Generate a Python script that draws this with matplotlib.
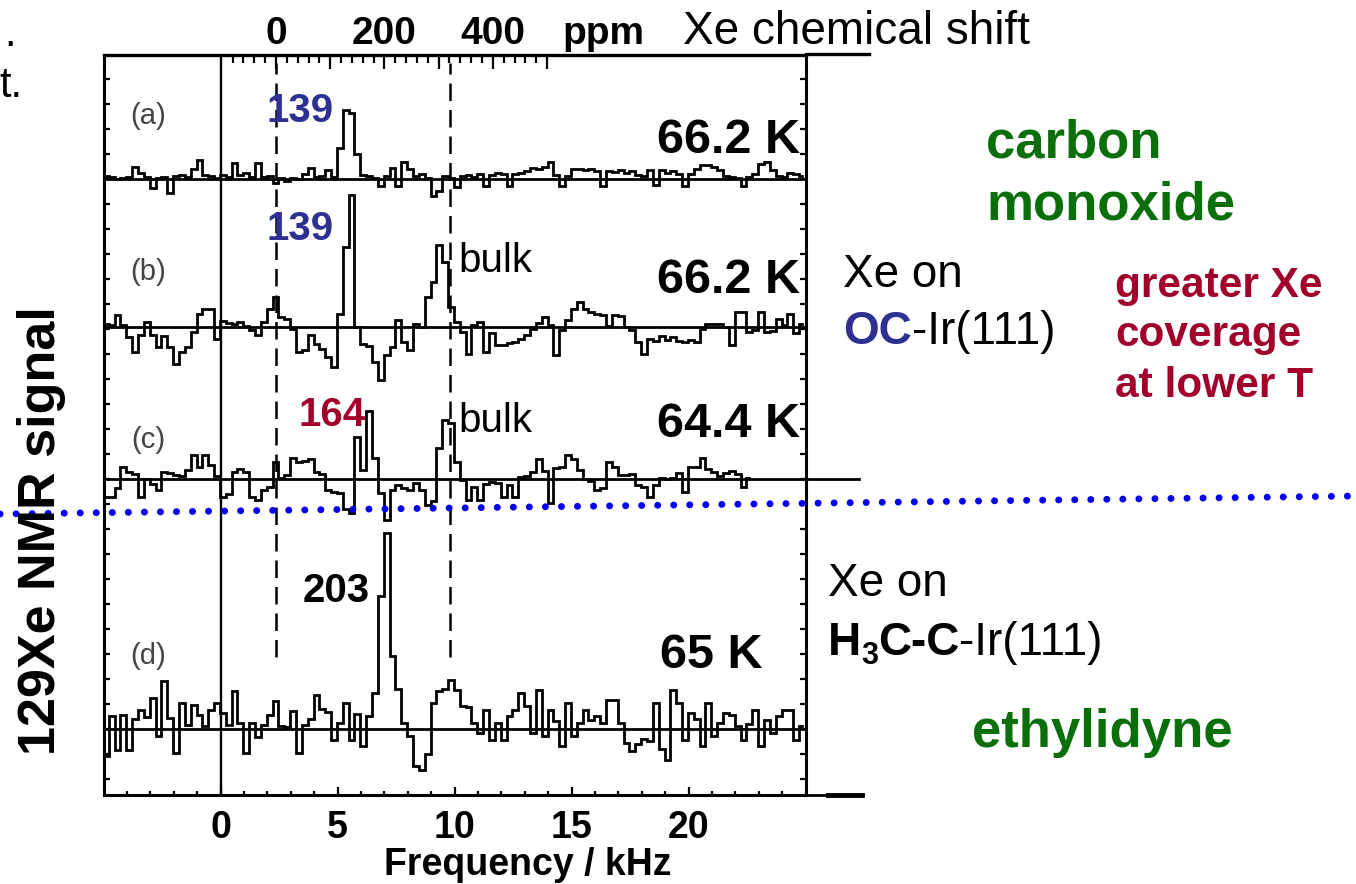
import numpy as np
import matplotlib
matplotlib.use("Agg")
import matplotlib.pyplot as plt
from matplotlib.lines import Line2D

plt.rcParams['font.family'] = ['Liberation Sans', 'DejaVu Sans']

W, H = 1356, 884

# spectra: signal above each trace's own baseline, one value every 0.25 kHz from -4.9 kHz
f_start = -4.9
f_step = 0.25

sig_a = [0.3, 0.2, 0.0, 0.1, 0.2, 1.2, 0.6, 0.2, -0.9, 0.1,
         0.2, -1.4, 0.3, 0.4, 0.2, 1.0, 1.9, 0.4, 0.3, 0.1,
         0.4, 0.2, 1.6, 0.4, 0.6, 0.2, 1.6, 0.2, 0.3, -0.4,
         0.1, -0.2, 0.1, 0.0, 0.5, 1.1, 0.2, 0.3, 0.9, 0.2,
         3.1, 6.9, 6.6, 2.5, 0.4, 0.3, 0.1, -0.7, 0.3, 1.1,
         -0.7, 1.7, 1.0, 0.3, 0.5, 0.1, -1.7, -1.2, 0.3, 0.1,
         -0.8, 0.3, 0.4, 0.2, 0.5, -0.7, 0.4, 0.6, 0.5, -0.7,
         0.5, 0.6, 0.8, 1.1, 1.0, 1.2, 1.7, 0.4, -0.7, 0.3,
         1.0, 1.0, 0.9, 1.0, 0.8, -0.7, 0.8, 0.7, 0.9, 0.6,
         0.8, 0.4, 0.3, 0.9, -0.6, 0.9, 0.6, 0.8, 0.5, -0.7,
         0.5, 1.0, 1.4, 1.4, 1.2, 0.9, 0.3, 0.2, 0.1, -0.7,
         0.2, 0.5, 1.5, 1.7, 0.9, 0.3, 0.2, 0.6, 0.5, 0.3]

sig_b = [0.3, 0.2, 1.2, 0.2, -1.0, -2.5, -0.8, 0.5, -0.8, -2.0,
         -0.9, -2.0, -3.7, -2.5, -2.0, -0.5, 1.3, 1.8, 1.8, -1.2,
         0.6, 0.4, 0.3, 0.5, 0.1, -0.3, -0.8, 0.5, 1.8, 3.0,
         1.0, 0.8, -0.2, -2.5, -2.3, -0.8, -1.7, -2.2, -3.0, -4.0,
         1.3, 8.0, 13.2, 0.0, -1.7, -1.9, -3.5, -5.3, -2.8, -2.0,
         0.7, -1.5, -2.3, 0.3, 0.0, 3.0, 4.5, 8.2, 6.5, 2.0,
         0.5, -0.5, -2.7, 0.2, 0.5, -2.5, -0.6, -1.8, -1.8, -1.6,
         -1.5, -1.2, -0.8, -0.2, 0.4, 1.0, 0.2, -2.8, -0.3, 0.7,
         1.8, 2.5, 1.8, 1.5, 1.3, 1.2, 0.1, 1.2, 1.1, 0.0,
         -0.3, -1.5, -2.7, -1.2, -1.4, -0.9, -1.3, -1.0, -1.4, -1.5,
         -1.3, -1.5, -0.2, 0.3, 0.3, 0.3, 0.0, -1.8, 1.5, 1.5,
         -0.5, -0.3, 1.5, -0.5, -0.4, 0.8, 0.2, 1.3, -0.6, 0.3]

sig_c = [-1.8, -1.8, -0.9, 1.2, 0.7, 0.5, -1.8, 0.0, -0.5, -1.1,
         0.7, 0.6, 0.4, 0.3, 0.9, 2.4, 1.2, 2.4, 1.4, 0.3,
         -1.8, -1.5, 0.7, 1.0, 0.7, -1.8, -2.1, -1.1, -0.8, 1.7,
         0.1, 0.4, 2.1, 1.7, 1.8, 2.0, 0.7, 0.5, -1.1, -1.3,
         -1.4, -3.0, -3.4, 4.2, 0.9, 6.8, 2.1, -1.4, -4.1, -1.1,
         -0.6, -0.9, -1.1, -0.4, -1.1, -2.6, -2.2, 3.1, 5.9, 5.6,
         1.7, -0.1, -2.1, -0.8, -2.1, -0.5, -0.3, -0.4, -1.8, -0.6,
         -1.8, 0.2, 0.3, 0.7, 2.0, 0.8, -2.4, 1.1, 1.2, 2.4,
         2.0, 0.9, 0.0, -0.2, -1.1, -0.9, 1.7, 1.2, 0.4, 0.4,
         0.5, -0.6, -0.8, -1.8, -0.6, 0.1, 0.0, 0.1, 0.6, -1.3,
         1.2, 1.2, 2.1, 1.0, 0.7, 0.3, 0.6, 0.8, 0.5, -0.8,
         0.1]

sig_d = [-2.7, 1.3, -2.1, 1.4, -2.1, 1.0, 1.9, 1.2, 3.1, -0.7,
         4.8, 1.1, -2.4, 2.6, 0.4, 2.4, 1.4, 0.3, 1.9, 2.6,
         1.6, 0.4, 3.8, 0.6, -2.4, 0.6, -0.8, 0.4, 1.4, 2.8,
         0.3, 0.2, 1.8, -2.4, 0.4, 1.0, 3.4, 2.0, 1.7, -1.1,
         0.6, 2.6, -1.1, 1.5, -1.7, 1.3, 3.6, 13.3, 19.6, 7.3,
         4.0, 0.6, -0.7, -3.7, -4.1, -2.5, 2.6, 3.8, 4.0, 4.9,
         3.9, 2.3, 2.2, 0.6, -0.4, 1.9, -1.1, 0.6, -1.1, 1.3,
         1.9, 3.6, 2.3, -0.4, 3.9, -0.7, 1.9, 0.8, -1.7, 2.6,
         -0.7, 0.6, 1.9, 0.9, 1.3, 0.6, 2.9, 2.9, 0.6, -1.4,
         -2.2, -1.5, -1.0, -1.2, 2.6, -2.0, -3.1, 3.9, 2.6, -1.1,
         1.6, 1.0, -1.7, 2.6, -0.7, 0.6, 1.6, 1.4, 0.3, -1.1,
         0.5, 1.9, -1.7, 0.9, -0.4, 1.3, 1.9, 1.9, -1.1, 0.3]

spectra = [sig_a, sig_b, sig_c, sig_d]
baselines = [61.6, 46.8, 31.6, 6.6]
panel_labels = ['(a)', '(b)', '(c)', '(d)']
temps = ['66.2 K', '66.2 K', '64.4 K', '65 K']

# top chemical-shift scale: 0 ppm sits at 2.37 kHz, 0.02317 kHz per ppm
zero_ppm_khz = 2.37
khz_per_ppm = 0.02317
bulk_ppm = 321
ppm_major = [0, 100, 200, 300, 400, 500]
ppm_labels = ['0', '', '200', '', '400', '']

khz_ticks = [0, 5, 10, 15, 20]

blue = '#2e3192'
red = '#a0002a'
green = '#0a6e0a'


def k2p(f):
    return (np.asarray(f) - zero_ppm_khz) / khz_per_ppm


def p2k(p):
    return np.asarray(p) * khz_per_ppm + zero_ppm_khz


def fx(x):
    return x / W


def fy(y):
    return 1 - y / H


fig = plt.figure(figsize=(W / 100, H / 100), dpi=100)
ax = fig.add_axes([fx(104), fy(795), 702 / W, 740 / H])
xmin, xmax = -4.98, 25.02
ax.set_xlim(xmin, xmax)
ax.set_ylim(0, 74)

for i, (sig, base) in enumerate(zip(spectra, baselines)):
    f = f_start + f_step * np.arange(len(sig))
    ax.plot(f, base + np.array(sig), color='k', lw=2.0, drawstyle='steps-mid',
            solid_joinstyle='miter')
    if i == 2:
        # baseline of (c) runs on past the frame
        ax.plot([xmin, 27.3], [base, base], color='k', lw=2.0, clip_on=False)
    else:
        ax.axhline(base, color='k', lw=2.0)

ax.axvline(0, color='k', lw=1.7)
for p in [0, bulk_ppm]:
    ax.plot([p2k(p)] * 2, [13.8, 73.2], color='k', lw=1.8, ls=(0, (7, 3.6)))

for s in ['left', 'right', 'bottom']:
    ax.spines[s].set_linewidth(2.2)
ax.spines['top'].set_visible(False)

ax.set_xticks(khz_ticks)
ax.set_xticklabels([str(t) for t in khz_ticks])
ax.set_xticks(np.arange(-4, 26), minor=True)
ax.tick_params(axis='x', which='major', direction='in', length=6, width=1.6,
               labelsize=27, pad=11, top=False)
ax.tick_params(axis='x', which='minor', direction='in', length=3, width=1.6, top=False)
for lab in ax.get_xticklabels():
    lab.set_fontweight('bold')

ax.set_yticks(np.arange(1.6, 74, 2.5))
ax.set_yticklabels([])
ax.tick_params(axis='y', direction='in', length=4.5, width=1.6, left=True, right=True)

secax = ax.secondary_xaxis('top', functions=(k2p, p2k))
secax.set_xticks(ppm_major)
secax.set_xticklabels(ppm_labels)
secax.set_xticks(np.arange(-80, 501, 20), minor=True)
secax.tick_params(axis='x', which='major', direction='in', length=10, width=1.6,
                  labelsize=28, pad=2)
secax.tick_params(axis='x', which='minor', direction='in', length=6, width=1.6)
secax.spines['top'].set_linewidth(2.4)
for lab in secax.get_xticklabels():
    lab.set_fontweight('bold')

# frame extensions to the right of the plot
fig.add_artist(Line2D([fx(806), fx(869)], [fy(54), fy(54)], color='k', lw=2.4))
fig.add_artist(Line2D([fx(806), fx(862)], [fy(795), fy(795)], color='k', lw=2.0))
fig.add_artist(Line2D([fx(828), fx(862)], [fy(795), fy(795)], color='k', lw=3.5))

# annotations inside the plot
label_y = [67.9, 52.3, 35.5, 13.9]
for lab, y in zip(panel_labels, label_y):
    ax.text(-3.1, y, lab, ha='center', va='center', fontsize=21, color='#444444')

ax.text(3.4, 67.3, '139', color=blue, fontsize=29, fontweight='bold', ha='center', va='baseline')
ax.text(3.4, 55.5, '139', color=blue, fontsize=29, fontweight='bold', ha='center', va='baseline')
ax.text(4.76, 36.9, '164', color=red, fontsize=29, fontweight='bold', ha='center', va='baseline')
ax.text(4.94, 19.3, '203', color='k', fontsize=29, fontweight='bold', ha='center', va='baseline')
ax.text(10.15, 52.3, 'bulk', fontsize=29, ha='left', va='baseline')
ax.text(10.15, 36.3, 'bulk', fontsize=29, ha='left', va='baseline')

temp_pos = [(24.75, 64.2, 'right'), (24.75, 50.2, 'right'), (24.75, 35.8, 'right'), (18.8, 12.7, 'left')]
for t, (x, y, ha) in zip(temps, temp_pos):
    ax.text(x, y, t, fontsize=35, fontweight='bold', ha=ha, va='baseline')

# axis titles
fig.text(fx(603), fy(44), 'ppm', fontsize=28, fontweight='bold', ha='center', va='baseline')
fig.text(fx(528), fy(875), 'Frequency / kHz', fontsize=27, fontweight='bold',
         ha='center', va='baseline')
fig.text(fx(42), fy(531), '129Xe NMR signal', fontsize=37.5, fontweight='bold',
         rotation=90, ha='center', va='center')

# slide text around the figure
fig.text(fx(16), fy(46), '.', fontsize=30, ha='right', va='baseline')
fig.text(fx(22), fy(97), 't.', fontsize=30, ha='right', va='baseline')
fig.text(fx(683), fy(44), 'Xe chemical shift', fontsize=33, ha='left', va='baseline')

fig.text(fx(986), fy(157), 'carbon', fontsize=38, fontweight='bold', color=green, va='baseline')
fig.text(fx(986), fy(220), 'monoxide', fontsize=38, fontweight='bold', color=green, va='baseline')
fig.text(fx(972), fy(747), 'ethylidyne', fontsize=38, fontweight='bold', color=green, va='baseline')

fig.text(fx(1115), fy(297), 'greater Xe', fontsize=30.5, fontweight='bold', color=red, va='baseline')
fig.text(fx(1115), fy(346), 'coverage', fontsize=30.5, fontweight='bold', color=red, va='baseline')
fig.text(fx(1115), fy(397), 'at lower T', fontsize=30.5, fontweight='bold', color=red, va='baseline')

fig.text(fx(843), fy(287), 'Xe on', fontsize=33, va='baseline')
t1 = fig.text(fx(843), fy(344), 'OC', fontsize=33, fontweight='bold', color=blue, va='baseline')
ax.annotate('-Ir(111)', xy=(1, 0), xycoords=t1, fontsize=33, va='bottom', ha='left',
            annotation_clip=False)

fig.text(fx(828), fy(596), 'Xe on', fontsize=33, va='baseline')
h1 = fig.text(fx(828), fy(655), 'H', fontsize=33, fontweight='bold', va='baseline')
h2 = ax.annotate('3', xy=(1, 0), xycoords=h1, xytext=(0, -4), textcoords='offset points',
                 fontsize=22, fontweight='bold', va='bottom', ha='left', annotation_clip=False)
h3 = ax.annotate('C-C', xy=(1, 0), xycoords=h2, xytext=(0, 4), textcoords='offset points',
                 fontsize=33, fontweight='bold', va='bottom', ha='left', annotation_clip=False)
ax.annotate('-Ir(111)', xy=(1, 0), xycoords=h3, fontsize=33, va='bottom', ha='left',
            annotation_clip=False)

# blue dotted separator across the slide
fig.add_artist(Line2D([0, 1], [fy(514), fy(496)], color='#0000ee', lw=5.0,
                      ls=(0, (0.01, 2.3)), dash_capstyle='round'))

fig.savefig('out.png', dpi=100)
